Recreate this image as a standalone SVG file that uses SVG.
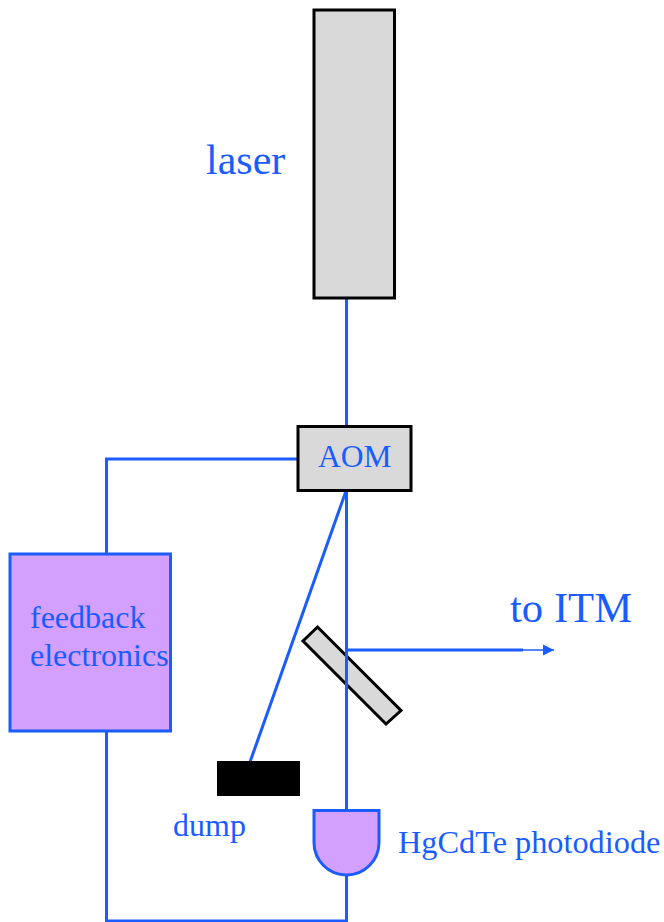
<svg xmlns="http://www.w3.org/2000/svg" width="664" height="922" viewBox="0 0 664 922">
<style>
.b{stroke:#1a5cff;stroke-width:3;fill:none}
.g{fill:#d9d9d9;stroke:#000;stroke-width:3}
.p{fill:#d4a0ff;stroke:#1a5cff;stroke-width:3}
text{font-family:"Liberation Serif","Times New Roman",serif;fill:#1a5cff}
</style>
<defs><marker id="arr" markerUnits="userSpaceOnUse" markerWidth="12" markerHeight="12" refX="11" refY="6" orient="auto"><path d="M0 0.500L11 6L0 11.500z" fill="#1a5cff"/></marker></defs>
<rect width="664" height="922" fill="#fff"/>
<g id="mirror"><polygon class="g" points="317.500,627 401,710.500 386,724 303,641"/></g>
<g id="connectors">
<path class="b" d="M346.500 298V426"/>
<path class="b" d="M346.500 491V810"/>
<path class="b" d="M346 491L250 762"/>
<path class="b" d="M298 459H106.500V554"/>
<path class="b" d="M106.500 731L106.500 921L346.500 921L346.500 875"/>
<path class="b" d="M346.500 650H523"/>
<path d="M522 650H554" stroke="#1a5cff" stroke-width="1.500" fill="none" marker-end="url(#arr)"/>
</g>
<g id="laser"><rect class="g" x="314" y="10" width="80.500" height="288"/><text x="206" y="174" font-size="42">laser</text></g>
<g id="aom"><rect class="g" x="298" y="426.500" width="113" height="64"/><text x="318" y="467" font-size="31.500">AOM</text></g>
<g id="feedback"><rect class="p" x="10" y="554" width="160.500" height="177"/><text x="30" y="628" font-size="32">feedback</text><text x="30" y="666" font-size="32">electronics</text></g>
<g id="dump"><rect x="217" y="761" width="83" height="35" fill="#000"/><text x="173" y="836" font-size="32">dump</text></g>
<g id="photodiode"><path class="p" d="M314 810.500H379V842.500A32.500 32.500 0 0 1 314 842.500Z"/><text x="398" y="853" font-size="32.300">HgCdTe photodiode</text></g>
<g id="to-itm"><text x="510" y="622" font-size="42.700">to ITM</text></g>
</svg>
